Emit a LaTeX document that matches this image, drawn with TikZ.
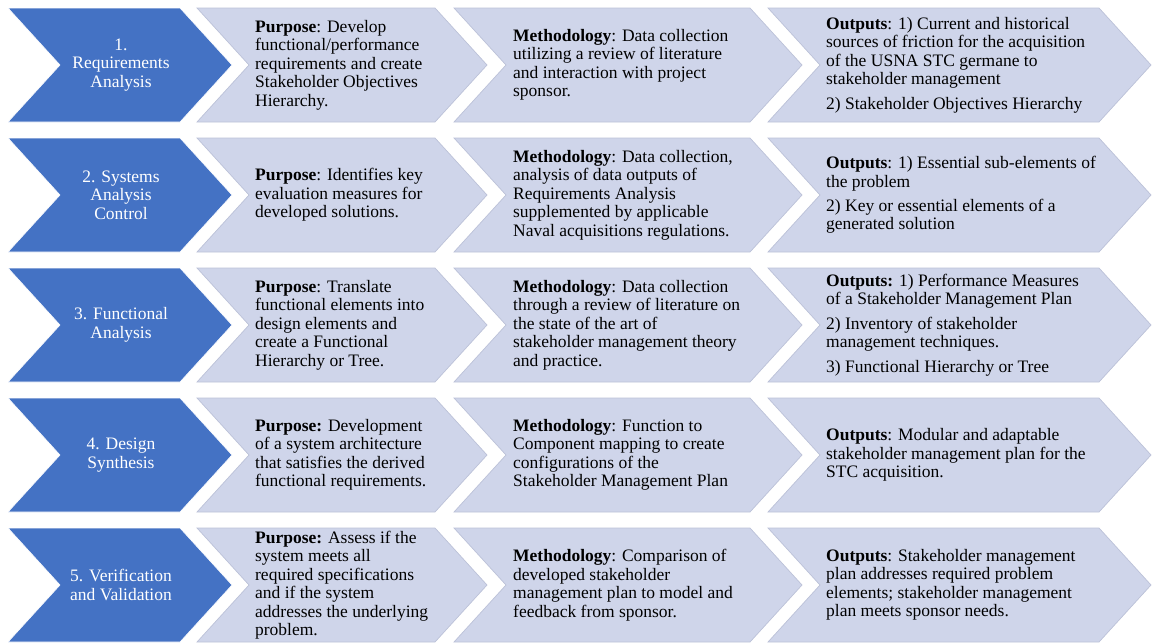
\documentclass[tikz,border=0pt]{standalone}
\usepackage{fontspec}
\setmainfont{Liberation Serif}
\definecolor{stepblue}{HTML}{4472C4}
\definecolor{lav}{HTML}{CFD5EA}
\definecolor{lavedge}{HTML}{BCC2D8}
\tikzset{
  bluechev/.style={fill=stepblue, draw=white, line width=0.7pt},
  lavchev/.style={fill=lav, draw=lavedge, line width=0.85pt},
  steplabel/.style={text=white, align=center, inner sep=0pt,
    font=\fontsize{21}{22.2}\selectfont},
  body/.style={text=black, align=left, anchor=west, inner sep=0pt,
    font=\fontsize{21}{22.2}\selectfont},
}
% chevron: style, left x, top-right x, centre y
\newcommand\chevron[4]{%
  \path[#1] (#2,#4-57) -- (#3,#4-57) -- (#3+52,#4) -- (#3,#4+57)
    -- (#2,#4+57) -- (#2+52,#4) -- cycle;}
% one row of the process: the step chevron plus three detail chevrons
\newcommand\processrow[1]{%
  \chevron{bluechev}{8}{180}{#1}
  \chevron{lavchev}{197}{435}{#1}
  \chevron{lavchev}{454}{750}{#1}
  \chevron{lavchev}{768}{1099}{#1}}
\begin{document}
\begin{tikzpicture}[x=1.2pt,y=-1.2pt]
\useasboundingbox (0,0) rectangle (1152,643);

\processrow{65}
\processrow{195}
\processrow{325}
\processrow{455}
\processrow{585}

% row 1
\node[steplabel] (s1) at (121,65) {1.\\Requirements\\Analysis};
\node[body] (p1) at (255,65) {\textbf{Purpose}: Develop\\functional/performance\\requirements and create\\Stakeholder Objectives\\Hierarchy.};
\node[body] (m1) at (513,65) {\textbf{Methodology}: Data collection\\utilizing a review of literature\\and interaction with project\\sponsor.};
\node[body] (o1) at (826,65) {\textbf{Outputs}: 1) Current and historical\\sources of friction for the acquisition\\of the USNA STC germane to\\stakeholder management\\[7pt]2) Stakeholder Objectives Hierarchy};

% row 2
\node[steplabel] (s2) at (121,195) {2. Systems\\Analysis\\Control};
\node[body] (p2) at (255,195) {\textbf{Purpose}: Identifies key\\evaluation measures for\\developed solutions.};
\node[body] (m2) at (513,195) {\textbf{Methodology}: Data collection,\\analysis of data outputs of\\Requirements Analysis\\supplemented by applicable\\Naval acquisitions regulations.};
\node[body] (o2) at (826,195) {\textbf{Outputs}: 1) Essential sub-elements of\\the problem\\[7pt]2) Key or essential elements of a\\generated solution};

% row 3
\node[steplabel] (s3) at (121,325) {3. Functional\\Analysis};
\node[body] (p3) at (255,325) {\textbf{Purpose}: Translate\\functional elements into\\design elements and\\create a Functional\\Hierarchy or Tree.};
\node[body] (m3) at (513,325) {\textbf{Methodology}: Data collection\\through a review of literature on\\the state of the art of\\stakeholder management theory\\and practice.};
\node[body] (o3) at (826,325) {\textbf{Outputs:} 1) Performance Measures\\of a Stakeholder Management Plan\\[7pt]2) Inventory of stakeholder\\management techniques.\\[7pt]3) Functional Hierarchy or Tree};

% row 4
\node[steplabel] (s4) at (121,455) {4. Design\\Synthesis};
\node[body] (p4) at (255,455) {\textbf{Purpose:} Development\\of a system architecture\\that satisfies the derived\\functional requirements.};
\node[body] (m4) at (513,455) {\textbf{Methodology}: Function to\\Component mapping to create\\configurations of the\\Stakeholder Management Plan};
\node[body] (o4) at (826,455) {\textbf{Outputs}: Modular and adaptable\\stakeholder management plan for the\\STC acquisition.};

% row 5
\node[steplabel] (s5) at (121,585) {5. Verification\\and Validation};
\node[body] (p5) at (255,585) {\textbf{Purpose:} Assess if the\\system meets all\\required specifications\\and if the system\\addresses the underlying\\problem.};
\node[body] (m5) at (513,585) {\textbf{Methodology}: Comparison of\\developed stakeholder\\management plan to model and\\feedback from sponsor.};
\node[body] (o5) at (826,585) {\textbf{Outputs}: Stakeholder management\\plan addresses required problem\\elements; stakeholder management\\plan meets sponsor needs.};
\end{tikzpicture}
\end{document}
